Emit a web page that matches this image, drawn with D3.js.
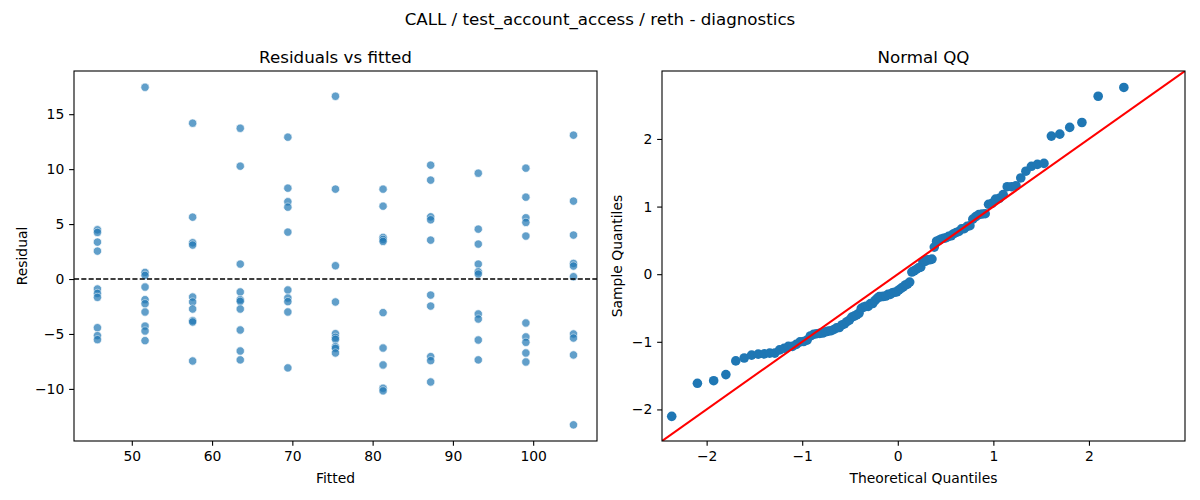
<!DOCTYPE html>
<html>
<head>
<meta charset="utf-8">
<script src="https://cdn.jsdelivr.net/npm/d3@7"></script>
<style>
  body { margin: 0; background: #fff; }
  text { font-family: "DejaVu Sans", sans-serif; fill: #000; }
</style>
</head>
<body>
<svg id="fig" width="1200" height="500"></svg>
<script>
// fitted value of each column of points
var fitted = [45.72, 51.65, 57.58, 63.51, 69.44, 75.37, 81.30, 87.23, 93.16, 99.09, 105.02];

// residuals, one list per fitted value
var residuals = [
  [4.48, 4.24, 3.36, 2.54, -0.91, -1.31, -1.67, -4.43, -5.15, -5.52],
  [17.45, 0.60, 0.33, -0.73, -1.88, -2.25, -3.00, -4.28, -4.73, -5.61],
  [14.18, 5.63, 3.30, 3.09, -1.64, -2.09, -2.73, -3.79, -3.91, -7.46],
  [13.72, 10.27, 1.36, -1.18, -1.88, -2.03, -2.73, -4.64, -6.55, -7.36],
  [12.91, 8.27, 7.03, 6.54, 4.27, -1.00, -1.73, -2.06, -3.00, -8.09],
  [16.63, 8.18, 1.21, -2.09, -4.97, -5.31, -5.49, -6.15, -6.31, -6.73],
  [8.18, 6.63, 3.79, 3.60, 3.42, -3.06, -6.28, -7.82, -9.94, -10.18],
  [10.36, 9.00, 5.66, 5.39, 3.54, -1.46, -2.46, -7.06, -7.43, -9.37],
  [9.63, 4.54, 3.18, 1.36, 0.66, 0.45, -3.18, -3.64, -5.55, -7.36],
  [10.09, 7.45, 5.57, 5.15, 3.91, -4.00, -5.27, -5.76, -6.73, -7.55],
  [13.09, 7.09, 4.00, 1.42, 1.18, 0.21, -5.00, -5.37, -6.91, -13.27]
];

var fittedTicks = [50, 60, 70, 80, 90, 100];
var residTicks = [-10, -5, 0, 5, 10, 15];
var qqTicks = [-2, -1, 0, 1, 2];

var suptitle = "CALL / test_account_access / reth - diagnostics";

// inverse normal cdf (Acklam) for the theoretical quantiles
function normInv(p) {
  var a = [-3.969683028665376e+01, 2.209460984245205e+02, -2.759285104469687e+02, 1.383577518672690e+02, -3.066479806614716e+01, 2.506628277459239e+00];
  var b = [-5.447609879822406e+01, 1.615858368580409e+02, -1.556989798598866e+02, 6.680131188771972e+01, -1.328068155288572e+01];
  var c = [-7.784894002430293e-03, -3.223964580411365e-01, -2.400758277161838e+00, -2.549732539343734e+00, 4.374664141464968e+00, 2.938163982698783e+00];
  var d = [7.784695709041462e-03, 3.224671290700398e-01, 2.445134137142996e+00, 3.754408661907416e+00];
  var q, r;
  if (p < 0.02425) {
    q = Math.sqrt(-2 * Math.log(p));
    return (((((c[0]*q+c[1])*q+c[2])*q+c[3])*q+c[4])*q+c[5]) / ((((d[0]*q+d[1])*q+d[2])*q+d[3])*q+1);
  }
  if (p > 1 - 0.02425) {
    q = Math.sqrt(-2 * Math.log(1 - p));
    return -(((((c[0]*q+c[1])*q+c[2])*q+c[3])*q+c[4])*q+c[5]) / ((((d[0]*q+d[1])*q+d[2])*q+d[3])*q+1);
  }
  q = p - 0.5; r = q * q;
  return (((((a[0]*r+a[1])*r+a[2])*r+a[3])*r+a[4])*r+a[5])*q / (((((b[0]*r+b[1])*r+b[2])*r+b[3])*r+b[4])*r+1);
}

var svg = d3.select("#fig");
var tickLen = 4.86, tickPad = 4.86, fs = 13.9;
var fmt = d3.format("d");

svg.append("text")
  .attr("x", 600).attr("y", 24.5)
  .attr("text-anchor", "middle")
  .style("font-size", "16.7px")
  .text(suptitle);

function drawAxes(g, x, y, xt, yt, w, h, title, xlab, ylab, ylabX) {
  var ax = g.append("g").attr("transform", "translate(0," + h + ")")
    .call(d3.axisBottom(x).tickValues(xt).tickFormat(fmt).tickSize(tickLen).tickPadding(tickPad));
  var ay = g.append("g")
    .call(d3.axisLeft(y).tickValues(yt).tickFormat(fmt).tickSize(tickLen).tickPadding(tickPad));
  [ax, ay].forEach(function(a) {
    a.select(".domain").remove();
    a.selectAll("line").attr("stroke", "#000").attr("stroke-width", 1.1);
    a.selectAll("text").attr("font-family", null).attr("fill", "#000").style("font-size", fs + "px");
  });
  g.append("rect").attr("width", w).attr("height", h)
    .attr("fill", "none").attr("stroke", "#000").attr("stroke-width", 1.1);
  g.append("text").attr("x", w / 2).attr("y", -8.3)
    .attr("text-anchor", "middle").style("font-size", "16.7px").text(title);
  g.append("text").attr("x", w / 2).attr("y", h + 41.5)
    .attr("text-anchor", "middle").style("font-size", fs + "px").text(xlab);
  g.append("text").attr("transform", "translate(" + ylabX + "," + (h / 2) + ") rotate(-90)")
    .attr("dy", "0.35em")
    .attr("text-anchor", "middle").style("font-size", fs + "px").text(ylab);
}

// ---- left: residuals vs fitted
var W = 523, H = 370;
var g1 = svg.append("g").attr("transform", "translate(74,71)");
var x1 = d3.scaleLinear().domain([42.8, 107.95]).range([0, W]);
var y1 = d3.scaleLinear().domain([-14.74, 18.93]).range([H, 0]);

var pts = [];
fitted.forEach(function(f, i) {
  residuals[i].forEach(function(r) { pts.push({ f: f, r: r }); });
});

g1.append("g").selectAll("circle")
  .data(pts).enter().append("circle")
  .attr("cx", function(d) { return x1(d.f); })
  .attr("cy", function(d) { return y1(d.r); })
  .attr("r", 4.17)
  .attr("fill", "#1f77b4")
  .attr("stroke", "#fff")
  .attr("stroke-width", 0.67)
  .attr("opacity", 0.7);

g1.append("line")
  .attr("x1", 0).attr("x2", W)
  .attr("y1", y1(0)).attr("y2", y1(0))
  .attr("stroke", "#000").attr("stroke-width", 1.3)
  .attr("stroke-dasharray", "5.1,2.2");

drawAxes(g1, x1, y1, fittedTicks, residTicks, W, H,
  "Residuals vs fitted", "Fitted", "Residual", -52.3);

// ---- right: normal QQ
var g2 = svg.append("g").attr("transform", "translate(662,71)");
var lim = [-2.467, 3.005];
var x2 = d3.scaleLinear().domain(lim).range([0, W]);
var y2 = d3.scaleLinear().domain(lim).range([H, 0]);

var allRes = [].concat.apply([], residuals).sort(d3.ascending);
var n = allRes.length;
var mu = d3.mean(allRes);
var sd = Math.sqrt(d3.mean(allRes, function(v) { return (v - mu) * (v - mu); }));
var qq = allRes.map(function(v, i) {
  return { t: normInv((i + 1) / (n + 1)), s: (v - mu) / sd };
});

g2.append("clipPath").attr("id", "clipqq")
  .append("rect").attr("width", W).attr("height", H);

g2.append("g").selectAll("circle")
  .data(qq).enter().append("circle")
  .attr("cx", function(d) { return x2(d.t); })
  .attr("cy", function(d) { return y2(d.s); })
  .attr("r", 4.8)
  .attr("fill", "#1f77b4");

g2.append("line")
  .attr("clip-path", "url(#clipqq)")
  .attr("x1", x2(lim[0])).attr("y1", y2(lim[0]))
  .attr("x2", x2(lim[1])).attr("y2", y2(lim[1]))
  .attr("stroke", "red").attr("stroke-width", 2.08);

drawAxes(g2, x2, y2, qqTicks, qqTicks, W, H,
  "Normal QQ", "Theoretical Quantiles", "Sample Quantiles", -44.7);
</script>
</body>
</html>
